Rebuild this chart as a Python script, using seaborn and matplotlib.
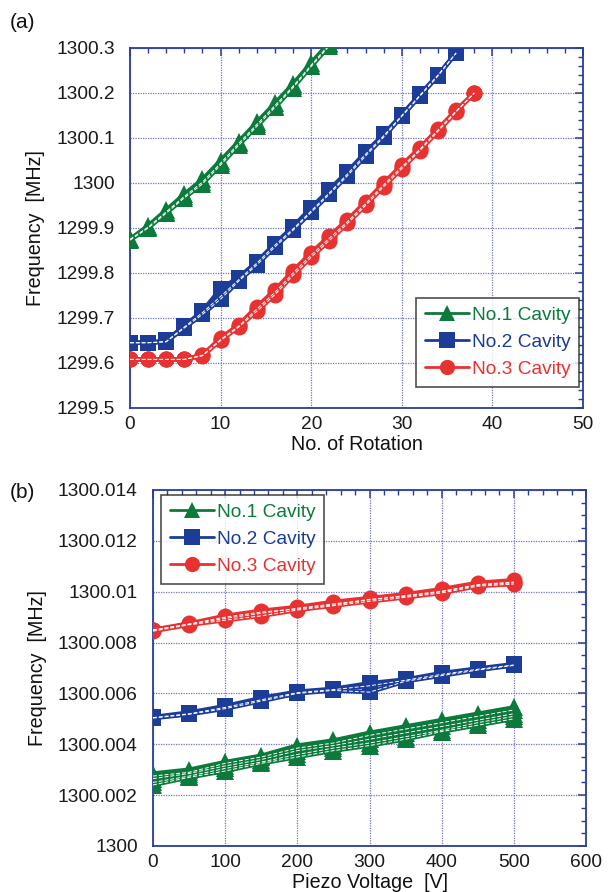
import numpy as np
import pandas as pd
import matplotlib
matplotlib.use("Agg")
import matplotlib.pyplot as plt
from matplotlib.lines import Line2D
from matplotlib.ticker import MultipleLocator, FuncFormatter
import seaborn as sns

sns.set_theme(style="white")
plt.rcParams['font.family'] = ['Liberation Sans', 'DejaVu Sans']

# ---------------- data: panel (a) ----------------
rot_green = [0, 2, 4, 6, 8, 10, 12, 14, 16, 18, 20, 22]
a_green_run1 = [1299.875, 1299.905, 1299.940, 1299.975, 1300.008, 1300.050, 1300.092, 1300.135, 1300.177, 1300.220, 1300.267, 1300.312]
a_green_run2 = [1299.875, 1299.902, 1299.936, 1299.970, 1300.002, 1300.044, 1300.088, 1300.130, 1300.172, 1300.215, 1300.262, 1300.308]
a_green_run3 = [1299.873, 1299.900, 1299.933, 1299.967, 1299.998, 1300.040, 1300.084, 1300.126, 1300.168, 1300.212, 1300.259, 1300.305]

rot_blue = [0, 2, 4, 6, 8, 10, 12, 14, 16, 18, 20, 22, 24, 26, 28, 30, 32, 34, 36]
a_blue_run1 = [1299.645, 1299.645, 1299.650, 1299.683, 1299.715, 1299.765, 1299.790, 1299.825, 1299.865, 1299.903, 1299.945, 1299.985, 1300.025, 1300.068, 1300.108, 1300.152, 1300.197, 1300.240, 1300.289]
a_blue_run2 = [1299.645, 1299.645, 1299.648, 1299.680, 1299.712, 1299.748, 1299.785, 1299.822, 1299.862, 1299.898, 1299.938, 1299.978, 1300.020, 1300.064, 1300.105, 1300.150, 1300.195, 1300.240, 1300.289]
a_blue_run3 = [1299.645, 1299.645, 1299.647, 1299.678, 1299.708, 1299.742, 1299.782, 1299.818, 1299.858, 1299.895, 1299.935, 1299.975, 1300.016, 1300.060, 1300.102, 1300.148, 1300.193, 1300.238, 1300.289]

rot_red = [0, 2, 4, 6, 8, 10, 12, 14, 16, 18, 20, 22, 24, 26, 28, 30, 32, 34, 36, 38]
a_red_run1 = [1299.608, 1299.608, 1299.608, 1299.608, 1299.618, 1299.655, 1299.685, 1299.725, 1299.762, 1299.805, 1299.845, 1299.882, 1299.918, 1299.958, 1300.000, 1300.040, 1300.078, 1300.120, 1300.162, 1300.200]
a_red_run2 = [1299.608, 1299.608, 1299.608, 1299.608, 1299.616, 1299.650, 1299.680, 1299.715, 1299.752, 1299.795, 1299.835, 1299.872, 1299.910, 1299.950, 1299.992, 1300.032, 1300.072, 1300.115, 1300.158, 1300.200]
a_red_run3 = [1299.608, 1299.608, 1299.608, 1299.608, 1299.617, 1299.652, 1299.682, 1299.720, 1299.757, 1299.800, 1299.840, 1299.877, 1299.914, 1299.954, 1299.996, 1300.036, 1300.075, 1300.118, 1300.160, 1300.200]

# ---------------- data: panel (b) ----------------
volt = [0, 50, 100, 150, 200, 250, 300, 350, 400, 450, 500]
b_green_run1 = [1300.00285, 1300.00300, 1300.00330, 1300.00355, 1300.00395, 1300.00415, 1300.00445, 1300.00470, 1300.00495, 1300.00520, 1300.00545]
b_green_run2 = [1300.00275, 1300.00290, 1300.00325, 1300.00350, 1300.00385, 1300.00405, 1300.00435, 1300.00460, 1300.00485, 1300.00510, 1300.00535]
b_green_run3 = [1300.00265, 1300.00285, 1300.00315, 1300.00340, 1300.00375, 1300.00395, 1300.00420, 1300.00445, 1300.00470, 1300.00495, 1300.00520]
b_green_run4 = [1300.00250, 1300.00275, 1300.00305, 1300.00330, 1300.00360, 1300.00385, 1300.00405, 1300.00430, 1300.00455, 1300.00485, 1300.00510]
b_green_run5 = [1300.00240, 1300.00270, 1300.00295, 1300.00325, 1300.00350, 1300.00375, 1300.00395, 1300.00420, 1300.00450, 1300.00475, 1300.00500]

b_blue_run1 = [1300.00507, 1300.00525, 1300.00550, 1300.00582, 1300.00607, 1300.00618, 1300.00640, 1300.00655, 1300.00680, 1300.00698, 1300.00715]
b_blue_run2 = [1300.00505, 1300.00520, 1300.00545, 1300.00575, 1300.00603, 1300.00615, 1300.00630, 1300.00652, 1300.00675, 1300.00695, 1300.00712]
b_blue_run3 = [1300.00503, 1300.00518, 1300.00540, 1300.00570, 1300.00600, 1300.00612, 1300.00605, 1300.00648, 1300.00670, 1300.00692, 1300.00710]

b_red_run1 = [1300.00850, 1300.00875, 1300.00905, 1300.00925, 1300.00940, 1300.00960, 1300.00975, 1300.00990, 1300.01010, 1300.01035, 1300.01045]
b_red_run2 = [1300.00850, 1300.00872, 1300.00895, 1300.00915, 1300.00935, 1300.00952, 1300.00968, 1300.00985, 1300.01002, 1300.01028, 1300.01038]
b_red_run3 = [1300.00845, 1300.00870, 1300.00888, 1300.00905, 1300.00928, 1300.00945, 1300.00962, 1300.00978, 1300.00995, 1300.01022, 1300.01030]
b_red_run4 = [1300.00848, 1300.00873, 1300.00900, 1300.00920, 1300.00932, 1300.00948, 1300.00970, 1300.00982, 1300.01000, 1300.01025, 1300.01035]

labels = ["No.1 Cavity", "No.2 Cavity", "No.3 Cavity"]
colors = {"No.1 Cavity": "#0b7a3b", "No.2 Cavity": "#1b3c97", "No.3 Cavity": "#e83232"}
markers = {"No.1 Cavity": "^", "No.2 Cavity": "s", "No.3 Cavity": "o"}
AX = "#2b3d99"
GRID = "#7075c4"
FS = 13.8


def build(groups):
    rows = []
    for cav, xs, runs in groups:
        for k, run in enumerate(runs):
            for x, y in zip(xs, run):
                rows.append({"cavity": cav, "run": f"{cav}-{k}", "k": k, "x": x, "y": y})
    return pd.DataFrame(rows)


df_a = build([
    ("No.1 Cavity", rot_green, [a_green_run1, a_green_run2, a_green_run3]),
    ("No.2 Cavity", rot_blue, [a_blue_run1, a_blue_run2, a_blue_run3]),
    ("No.3 Cavity", rot_red, [a_red_run1, a_red_run2, a_red_run3]),
])
df_b = build([
    ("No.1 Cavity", volt, [b_green_run1, b_green_run2, b_green_run3, b_green_run4, b_green_run5]),
    ("No.2 Cavity", volt, [b_blue_run1, b_blue_run2, b_blue_run3]),
    ("No.3 Cavity", volt, [b_red_run1, b_red_run2, b_red_run3, b_red_run4]),
])

fig = plt.figure(figsize=(6.1, 8.92), dpi=100)
ax_a = fig.add_axes([130/610, 1-408/892, 453/610, 360/892])
ax_b = fig.add_axes([153/610, 1-846/892, 433/610, 356/892])


def draw(ax, df, ms):
    sizes = {"No.1 Cavity": ms + 1.5, "No.2 Cavity": ms, "No.3 Cavity": ms - 0.5}
    for cav in labels:
        sub = df[df.cavity == cav]
        sns.lineplot(data=sub, x="x", y="y", units="run", estimator=None,
                     color=colors[cav], marker=markers[cav], markersize=sizes[cav],
                     markeredgewidth=0, linewidth=3.2, ax=ax, legend=False, zorder=3)
        sub2 = sub[sub.k > 0]
        sns.lineplot(data=sub2, x="x", y="y", units="run", estimator=None,
                     color="white", linewidth=0.7, linestyle=(0, (4, 2)),
                     ax=ax, legend=False, zorder=4)


def style(ax, xlim, ylim, xmaj, xmin, ymaj, ymin):
    ax.set_xlim(*xlim)
    ax.set_ylim(*ylim)
    ax.xaxis.set_major_locator(MultipleLocator(xmaj))
    ax.xaxis.set_minor_locator(MultipleLocator(xmin))
    ax.yaxis.set_major_locator(MultipleLocator(ymaj))
    ax.yaxis.set_minor_locator(MultipleLocator(ymin))
    ax.grid(True, which="major", color=GRID, linestyle=(0, (1, 1)), linewidth=0.9)
    for s in ax.spines.values():
        s.set_color(AX)
        s.set_linewidth(1.3)
        s.set_visible(True)
    ax.tick_params(which="both", direction="in", top=True, right=True,
                   color=AX, labelsize=FS, labelcolor="#1a1a1a")
    ax.tick_params(axis="y", pad=11)
    ax.tick_params(axis="x", pad=6)
    ax.tick_params(which="major", length=6, width=1.1)
    ax.tick_params(which="minor", length=3.5, width=1.0)
    ax.set_axisbelow(True)


def legend(ax, loc, anchor):
    handles = [Line2D([0], [0], color=colors[c], marker=markers[c], markersize=11,
                      markeredgewidth=0, linewidth=2.0) for c in labels]
    leg = ax.legend(handles, labels, loc=loc, bbox_to_anchor=anchor, fontsize=FS,
                    frameon=True, fancybox=False, edgecolor="#222222",
                    handlelength=2.3, handletextpad=0.15, borderpad=0.45,
                    labelspacing=0.5, borderaxespad=0)
    leg.get_frame().set_linewidth(1.2)
    for t, c in zip(leg.get_texts(), labels):
        t.set_color(colors[c])
    leg.set_zorder(10)


draw(ax_a, df_a, 12)
style(ax_a, (0, 50), (1299.5, 1300.3), 10, 2, 0.1, 0.02)
ax_a.yaxis.set_major_formatter(FuncFormatter(lambda v, p: f"{v:.1f}".rstrip("0").rstrip(".")))
ax_a.set_xlabel("No. of Rotation", fontsize=FS + 0.4, color="#111111", labelpad=1)
ax_a.set_ylabel("Frequency  [MHz]", fontsize=FS + 0.4, color="#111111", labelpad=8)
legend(ax_a, "upper left", ((416-130)/453, (408-298)/360))

draw(ax_b, df_b, 12)
style(ax_b, (0, 600), (1300.0, 1300.014), 100, 20, 0.002, 0.0005)
ax_b.yaxis.set_major_formatter(FuncFormatter(lambda v, p: f"{v:.3f}".rstrip("0").rstrip(".")))
ax_b.set_xlabel("Piezo Voltage  [V]", fontsize=FS + 0.4, color="#111111", labelpad=1)
ax_b.set_ylabel("Frequency  [MHz]", fontsize=FS + 0.4, color="#111111", labelpad=8)
legend(ax_b, "upper left", ((161-153)/433, (846-495)/356))

fig.text(10/610, 1-22/892, "(a)", fontsize=15, color="#111111", va="center", ha="left")
fig.text(10/610, 1-492/892, "(b)", fontsize=15, color="#111111", va="center", ha="left")

fig.savefig("out.png", dpi=100)
